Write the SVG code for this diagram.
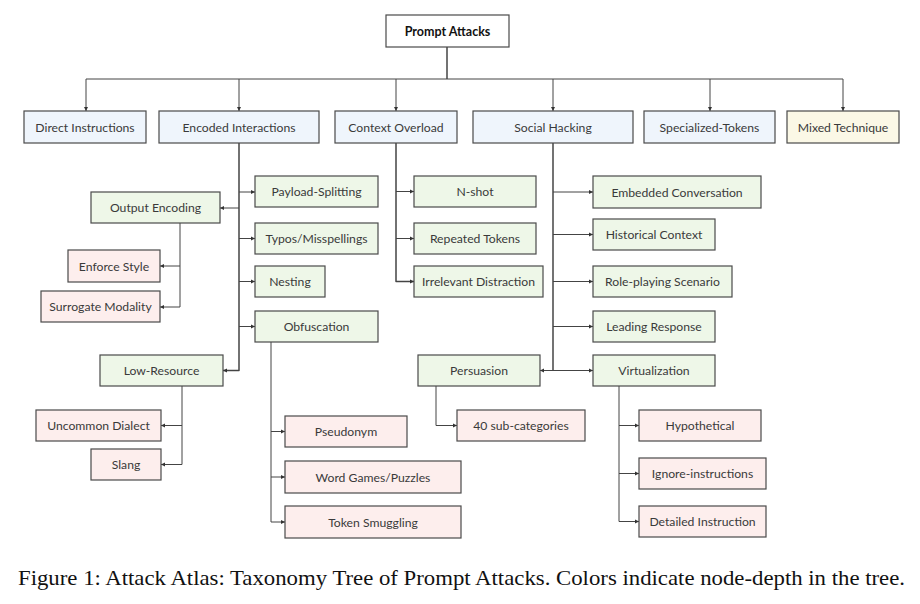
<svg xmlns="http://www.w3.org/2000/svg" width="920" height="604" viewBox="0 0 920 604">
<style>
.n rect{stroke:#4a4a4a;stroke-width:1.2}
.l1 rect{fill:#eff5fc}
.l2 rect{fill:#eef7e8}
.l3 rect{fill:#fdeeed}
.mx rect{fill:#fbf8e6}
.rt rect{fill:#ffffff}
.n text{font-family:Lato,"Open Sans","Liberation Sans",sans-serif;font-size:12.2px;fill:#3a3a3a;text-anchor:middle;dominant-baseline:central}
.rt text{font-weight:bold;fill:#111;font-size:12.5px}
#edges path{fill:none;stroke:#444;stroke-width:1;stroke-linejoin:round}
#edges path.t{stroke-width:1.5}
.cap{font-family:"Liberation Serif","Times New Roman",serif;font-size:22px;fill:#111}
</style>
<defs>
<marker id="a" markerUnits="userSpaceOnUse" markerWidth="5" markerHeight="5" refX="4" refY="2.5" orient="auto">
<path d="M0,0.5 L4,2.5 L0,4.5 Z" fill="#333"/>
</marker>
</defs>
<rect width="920" height="604" fill="#fff"/>
<g id="edges">
<path class="t" d="M447,47 V79"/>
<path d="M86,79 H843"/>
<path d="M86,79 V111" marker-end="url(#a)"/>
<path d="M239,79 V111" marker-end="url(#a)"/>
<path d="M396,79 V111" marker-end="url(#a)"/>
<path d="M553,79 V111" marker-end="url(#a)"/>
<path d="M710,79 V111" marker-end="url(#a)"/>
<path d="M843,79 V111" marker-end="url(#a)"/>
<path class="t" d="M239,143 V370.5 H223" marker-end="url(#a)"/>
<path d="M239,192 H255" marker-end="url(#a)"/>
<path d="M239,208 H220" marker-end="url(#a)"/>
<path d="M239,238.5 H255" marker-end="url(#a)"/>
<path d="M239,281.5 H255" marker-end="url(#a)"/>
<path d="M239,326.5 H255" marker-end="url(#a)"/>
<path d="M180,223 V307 H160" marker-end="url(#a)"/>
<path d="M180,266 H160" marker-end="url(#a)"/>
<path d="M182,386 V464.5 H161" marker-end="url(#a)"/>
<path d="M182,425.5 H161" marker-end="url(#a)"/>
<path d="M271,342 V522 H285" marker-end="url(#a)"/>
<path d="M271,431.5 H285" marker-end="url(#a)"/>
<path d="M271,477 H285" marker-end="url(#a)"/>
<path class="t" d="M396,143 V281.5 H414" marker-end="url(#a)"/>
<path d="M396,191.5 H414" marker-end="url(#a)"/>
<path d="M396,238.5 H414" marker-end="url(#a)"/>
<path class="t" d="M553,143 V370.5"/>
<path d="M553,192 H593" marker-end="url(#a)"/>
<path d="M553,234.5 H593" marker-end="url(#a)"/>
<path d="M553,281.5 H593" marker-end="url(#a)"/>
<path d="M553,326.5 H593" marker-end="url(#a)"/>
<path d="M553,370.5 H593" marker-end="url(#a)"/>
<path d="M553,370.5 H540" marker-end="url(#a)"/>
<path d="M436,386 V425.5 H457" marker-end="url(#a)"/>
<path d="M619,386 V521.5 H639" marker-end="url(#a)"/>
<path d="M619,425.5 H639" marker-end="url(#a)"/>
<path d="M619,473.5 H639" marker-end="url(#a)"/>
</g>
<g id="root" class="n rt"><rect x="386" y="15" width="123" height="32"/><text x="447.5" y="31">Prompt Attacks</text></g>
<g id="direct" class="n l1"><rect x="24" y="111" width="122" height="32"/><text x="85" y="127">Direct Instructions</text></g>
<g id="encoded" class="n l1"><rect x="159" y="111" width="160" height="32"/><text x="239" y="127">Encoded Interactions</text></g>
<g id="context" class="n l1"><rect x="335" y="111" width="122" height="32"/><text x="396" y="127">Context Overload</text></g>
<g id="social" class="n l1"><rect x="473" y="111" width="160" height="32"/><text x="553" y="127">Social Hacking</text></g>
<g id="special" class="n l1"><rect x="644" y="111" width="131" height="32"/><text x="709.5" y="127">Specialized-Tokens</text></g>
<g id="mixed" class="n mx"><rect x="787" y="111" width="112" height="32"/><text x="843" y="127">Mixed Technique</text></g>
<g id="payload" class="n l2"><rect x="255" y="176" width="123" height="31"/><text x="316.5" y="191.5">Payload-Splitting</text></g>
<g id="outenc" class="n l2"><rect x="91" y="192" width="129" height="31"/><text x="155.5" y="207.5">Output Encoding</text></g>
<g id="typos" class="n l2"><rect x="255" y="223" width="123" height="31"/><text x="316.5" y="238.5">Typos/Misspellings</text></g>
<g id="nesting" class="n l2"><rect x="255" y="266" width="70" height="31"/><text x="290" y="281.5">Nesting</text></g>
<g id="obfusc" class="n l2"><rect x="255" y="311" width="123" height="31"/><text x="316.5" y="326.5">Obfuscation</text></g>
<g id="lowres" class="n l2"><rect x="100" y="355" width="123" height="31"/><text x="161.5" y="370.5">Low-Resource</text></g>
<g id="enforce" class="n l3"><rect x="68" y="250" width="92" height="32"/><text x="114" y="266">Enforce Style</text></g>
<g id="surrogate" class="n l3"><rect x="41" y="291" width="119" height="31"/><text x="100.5" y="306.5">Surrogate Modality</text></g>
<g id="dialect" class="n l3"><rect x="36" y="410" width="125" height="31"/><text x="98.5" y="425.5">Uncommon Dialect</text></g>
<g id="slang" class="n l3"><rect x="91" y="449" width="70" height="31"/><text x="126" y="464.5">Slang</text></g>
<g id="pseudonym" class="n l3"><rect x="285" y="416" width="122" height="31"/><text x="346" y="431.5">Pseudonym</text></g>
<g id="wordgames" class="n l3"><rect x="285" y="461" width="176" height="32"/><text x="373" y="477">Word Games/Puzzles</text></g>
<g id="smuggling" class="n l3"><rect x="285" y="506" width="176" height="32"/><text x="373" y="522">Token Smuggling</text></g>
<g id="nshot" class="n l2"><rect x="414" y="176" width="122" height="31"/><text x="475" y="191.5">N-shot</text></g>
<g id="repeated" class="n l2"><rect x="414" y="223" width="122" height="31"/><text x="475" y="238.5">Repeated Tokens</text></g>
<g id="irrelevant" class="n l2"><rect x="414" y="266" width="129" height="31"/><text x="478.5" y="281.5">Irrelevant Distraction</text></g>
<g id="embedded" class="n l2"><rect x="593" y="176" width="168" height="32"/><text x="677" y="192">Embedded Conversation</text></g>
<g id="historical" class="n l2"><rect x="593" y="219" width="122" height="31"/><text x="654" y="234.5">Historical Context</text></g>
<g id="roleplay" class="n l2"><rect x="593" y="266" width="139" height="31"/><text x="662.5" y="281.5">Role-playing Scenario</text></g>
<g id="leading" class="n l2"><rect x="593" y="311" width="122" height="31"/><text x="654" y="326.5">Leading Response</text></g>
<g id="persuasion" class="n l2"><rect x="418" y="355" width="122" height="31"/><text x="479" y="370.5">Persuasion</text></g>
<g id="virtual" class="n l2"><rect x="593" y="355" width="122" height="31"/><text x="654" y="370.5">Virtualization</text></g>
<g id="sub40" class="n l3"><rect x="457" y="410" width="128" height="31"/><text x="521" y="425.5">40 sub-categories</text></g>
<g id="hypo" class="n l3"><rect x="639" y="410" width="122" height="31"/><text x="700" y="425.5">Hypothetical</text></g>
<g id="ignore" class="n l3"><rect x="639" y="458" width="127" height="31"/><text x="702.5" y="473.5">Ignore-instructions</text></g>
<g id="detailed" class="n l3"><rect x="639" y="506" width="127" height="31"/><text x="702.5" y="521.5">Detailed Instruction</text></g>
<text class="cap" x="18" y="585" textLength="887" lengthAdjust="spacingAndGlyphs">Figure 1: Attack Atlas: Taxonomy Tree of Prompt Attacks. Colors indicate node-depth in the tree.</text>
</svg>
